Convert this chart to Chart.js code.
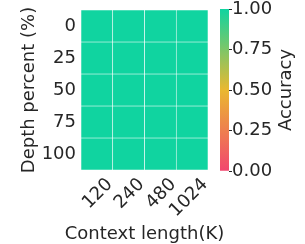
<!DOCTYPE html>
<html>
<head>
<meta charset="utf-8">
<script src="https://cdn.jsdelivr.net/npm/chart.js@4/dist/chart.umd.min.js"></script>
<style>
	body { margin: 0; background: #fff; }
	#wrap { position: relative; width: 305px; height: 244px; }
	#heat { position: absolute; left: 0; top: 0; }
	#cbar { position: absolute; left: 214px; top: 0; }
</style>
</head>
<body>
<div id="wrap">
	<canvas id="heat" width="305" height="244"></canvas>
	<canvas id="cbar" width="91" height="244"></canvas>
</div>
<script>
var contexts = ['120', '240', '480', '1024'];
var depths = ['0', '25', '50', '75', '100'];
// accuracy per depth row, one value per context length
var acc0 = [1, 1, 1, 1];
var acc25 = [1, 1, 1, 1];
var acc50 = [1, 1, 1, 1];
var acc75 = [1, 1, 1, 1];
var acc100 = [1, 1, 1, 1];
var cbarTicks = [0, 0.25, 0.5, 0.75, 1];

var rows = [acc0, acc25, acc50, acc75, acc100];
var family = "'DejaVu Sans', sans-serif";
var font = { family: family, size: 18 };
var textColor = '#262626';

// pink -> orange/yellow -> green
var stops = [[0, [242, 70, 110]], [0.5, [234, 184, 48]], [1, [16, 212, 160]]];
function cmap(v) {
	for (var i = 1; i < stops.length; i++) {
		if (v <= stops[i][0]) {
			var a = stops[i - 1], b = stops[i];
			var t = (v - a[0]) / (b[0] - a[0]);
			var c = a[1].map(function(x, k) { return Math.round(x + (b[1][k] - x) * t); });
			return 'rgb(' + c.join(',') + ')';
		}
	}
	return 'rgb(' + stops[stops.length - 1][1].join(',') + ')';
}

// Chart.js squeezes scale titles to the axis length, so titles are drawn here
function drawText(ctx, text, x, y, rot) {
	ctx.save();
	ctx.translate(x, y);
	if (rot) ctx.rotate(rot);
	ctx.font = '18px ' + family;
	ctx.fillStyle = textColor;
	ctx.textAlign = 'center';
	ctx.textBaseline = 'alphabetic';
	ctx.fillText(text, 0, 0);
	ctx.restore();
}

var heatTitles = {
	id: 'heatTitles',
	afterDraw: function(chart) {
		var a = chart.chartArea;
		drawText(chart.ctx, 'Context length(K)', (a.left + a.right) / 2, 239);
		drawText(chart.ctx, 'Depth percent (%)', 34, (a.top + a.bottom) / 2, -Math.PI / 2);
	}
};

var datasets = [];
for (var r = 0; r < rows.length; r++) {
	(function(r) {
		datasets.push({
			label: depths[r],
			data: rows[r].map(function() { return [r, r + 1]; }),
			backgroundColor: rows[r].map(cmap),
			borderColor: '#ffffff',
			borderWidth: 0.6,
			borderSkipped: false,
			grouped: false,
			categoryPercentage: 1,
			barPercentage: 1
		});
	})(r);
}

new Chart(document.getElementById('heat'), {
	type: 'bar',
	data: { labels: contexts, datasets: datasets },
	options: {
		responsive: false,
		animation: false,
		layout: { padding: { top: 10, right: 97, left: 0, bottom: 0 } },
		plugins: { legend: { display: false }, tooltip: { enabled: false } },
		scales: {
			x: {
				grid: { display: false, drawTicks: false },
				border: { display: false },
				ticks: { font: font, color: textColor, minRotation: 45, maxRotation: 45, autoSkip: false, padding: 4, labelOffset: 13 },
				afterFit: function(s) { s.height = 74; s.paddingLeft = 0; s.paddingRight = 0; }
			},
			y: {
				reverse: true,
				min: 0,
				max: 5,
				grid: { display: false, drawTicks: false },
				border: { display: false },
				afterBuildTicks: function(s) {
					s.ticks = depths.map(function(d, i) { return { value: i + 0.5 }; });
				},
				ticks: {
					font: font,
					color: textColor,
					padding: 5,
					callback: function(v) { return depths[Math.floor(v)]; }
				},
				afterFit: function(s) { s.width = 81; s.paddingTop = 0; s.paddingBottom = 0; }
			}
		}
	},
	plugins: [heatTitles]
});

var cbarTitle = {
	id: 'cbarTitle',
	afterDraw: function(chart) {
		var a = chart.chartArea;
		drawText(chart.ctx, 'Accuracy', 291 - 214, (a.top + a.bottom) / 2, -Math.PI / 2);
	}
};

new Chart(document.getElementById('cbar'), {
	type: 'bar',
	data: {
		labels: [''],
		datasets: [{
			data: [[0, 1]],
			categoryPercentage: 1,
			barPercentage: 1,
			backgroundColor: function(c) {
				var a = c.chart.chartArea;
				if (!a) return cmap(1);
				var g = c.chart.ctx.createLinearGradient(0, a.bottom, 0, a.top);
				for (var i = 0; i <= 10; i++) g.addColorStop(i / 10, cmap(i / 10));
				return g;
			}
		}]
	},
	options: {
		responsive: false,
		animation: false,
		layout: { padding: { top: 9, left: 6, right: 0, bottom: 73 } },
		plugins: { legend: { display: false }, tooltip: { enabled: false } },
		scales: {
			x: { display: false },
			y: {
				position: 'right',
				min: 0,
				max: 1,
				border: { display: false },
				grid: { drawOnChartArea: false, drawTicks: true, tickLength: 3, color: textColor },
				afterBuildTicks: function(s) {
					s.ticks = cbarTicks.map(function(v) { return { value: v }; });
				},
				ticks: {
					font: font,
					color: textColor,
					padding: 0,
					callback: function(v) { return v.toFixed(2); }
				},
				afterFit: function(s) { s.width = 76; s.paddingTop = 0; s.paddingBottom = 0; }
			}
		}
	},
	plugins: [cbarTitle]
});
</script>
</body>
</html>
